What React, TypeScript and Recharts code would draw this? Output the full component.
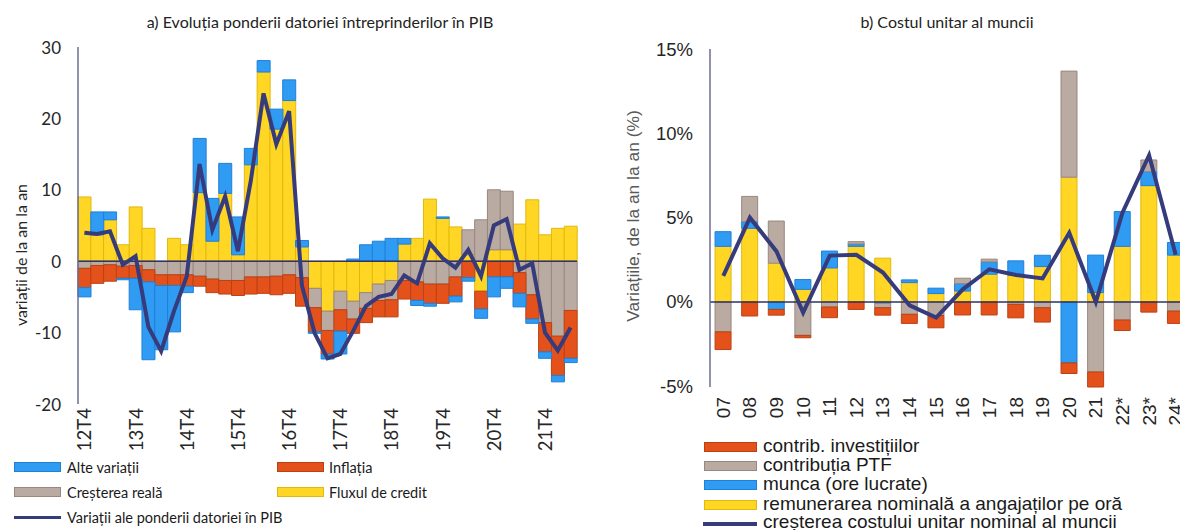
import React from 'react';
import { ComposedChart, Bar, Line, XAxis, YAxis, ReferenceLine } from 'recharts';

// ---------- Panel a) ----------
const quarters = ["12T4","13T1","13T2","13T3","13T4","14T1","14T2","14T3","14T4","15T1","15T2","15T3","15T4","16T1","16T2","16T3","16T4","17T1","17T2","17T3","17T4","18T1","18T2","18T3","18T4","19T1","19T2","19T3","19T4","20T1","20T2","20T3","20T4","21T1","21T2","21T3","21T4","22T1","22T2"];
const creditFlow = [9.0,3.7,5.8,2.3,7.6,4.6,0,3.2,2.3,9.6,2.8,9.5,0.9,13.5,26.5,18.5,22.5,2.0,-3.8,-7.0,-4.2,-5.6,-4.4,-3.2,-2.7,2.4,3.2,8.7,6.0,4.8,0.9,-4.2,1.6,1.6,5.2,8.6,3.7,4.6,4.9];
const realGrowth = [-1.0,-0.6,-0.5,-0.7,-0.6,-1.2,-1.9,-1.9,-1.9,-2.1,-2.5,-2.7,-2.7,-2.2,-2.2,-2.1,-1.9,-2.3,-2.7,-2.7,-2.6,-2.5,-2.2,-2.3,-2.7,-2.7,-2.9,-3.2,-3.2,-2.2,3.5,5.8,8.4,8.2,-1.6,-4.7,-8.6,-10.5,-6.9];
const inflation = [-2.7,-2.5,-2.3,-1.7,-1.8,-1.7,-1.5,-1.5,-1.6,-1.4,-1.9,-1.9,-2.1,-2.4,-2.3,-2.6,-2.6,-4.0,-3.4,-3.3,-3.0,-2.0,-2.0,-2.3,-2.4,-2.6,-2.6,-2.7,-2.7,-2.7,-2.3,-2.5,-2.2,-2.2,-2.9,-3.4,-4.1,-5.5,-6.7];
const otherChanges = [-1.3,3.2,1.1,-0.2,-4.4,-10.9,-9.0,-6.5,-0.9,7.6,6.0,4.2,5.3,2.3,1.6,2.8,2.9,0.9,-0.2,-0.7,-3.2,0.3,2.3,2.8,3.2,0.8,-0.7,-0.4,0.2,-0.8,-0.5,-1.3,-2.8,-1.6,-1.9,-0.6,-0.9,-0.9,-0.6];
const debtRatioChange = [4.0,3.8,4.2,-0.5,0.7,-9.2,-12.6,-7.0,-2.1,13.6,4.4,9.1,1.4,11.2,23.5,16.4,21.0,-3.4,-10.1,-13.6,-13.0,-9.8,-6.3,-5.0,-4.6,-2.0,-3.1,2.5,0.4,-0.9,1.6,-2.1,5.0,5.9,-1.2,-0.3,-10.0,-12.5,-9.3];
const leftTicks = [-20, -10, 0, 10, 20, 30];

// ---------- Panel b) ----------
const years = ["07","08","09","10","11","12","13","14","15","16","17","18","19","20","21","22*","23*","24*"];
const wagesPerHour = [3.3,4.37,2.3,0.75,2.02,3.3,2.6,1.15,0.5,0.65,1.65,1.59,2.1,7.4,0.56,3.3,6.9,2.78];
const labourHours = [0.87,0.4,-0.44,0.58,1.0,0.14,-0.08,0.16,0.32,0.44,0.73,0.85,0.67,-3.61,2.22,2.06,0.83,0.75];
const tfpContribution = [-1.77,1.49,2.5,-1.98,-0.3,0.14,-0.26,-0.73,-0.8,0.32,0.16,-0.14,-0.34,6.29,-4.15,-1.07,0.69,-0.54];
const investmentContribution = [-1.05,-0.83,-0.34,-0.14,-0.63,-0.44,-0.44,-0.54,-0.73,-0.77,-0.77,-0.8,-0.85,-0.63,-0.89,-0.62,-0.6,-0.73];
const unitLabourCost = [1.55,5.0,3.0,-0.63,2.75,2.8,1.75,-0.2,-0.93,0.75,1.94,1.6,1.4,4.1,0.0,5.3,8.7,2.8];
const rightTicks = [-5, 0, 5, 10, 15];

const leftData = quarters.map((q, i) => ({
  q,
  credit: creditFlow[i],
  real: realGrowth[i],
  infl: inflation[i],
  other: otherChanges[i],
  debt: debtRatioChange[i],
}));

const rightData = years.map((y, i) => ({
  y,
  wages: wagesPerHour[i],
  labour: labourHours[i],
  tfp: tfpContribution[i],
  invest: investmentContribution[i],
  ulc: unitLabourCost[i],
}));

const COL = {
  blue: '#2F9BF2', blueS: '#1F80D8',
  red: '#E5511B', redS: '#B94214',
  grey: '#B9AAA2', greyS: '#98877F',
  yellow: '#FFD624', yellowS: '#E2B80E',
  navy: '#363B7C',
  axis: '#6C6E93',
};

const CAL = 'Lato, "Open Sans", sans-serif';
const ARIAL = '"Liberation Sans", Arial, sans-serif';

const VTick = (props: any) => {
  const { x, payload, ty, font, size } = props;
  return (
    <text x={x} y={ty} transform={`rotate(-90, ${x}, ${ty})`} textAnchor="end" dominantBaseline="central"
      fontFamily={font} fontSize={size} fill="#262626">{payload.value}</text>
  );
};

const YTick = (props: any) => {
  const { y, payload, tx, font, size, fmt } = props;
  return (
    <text x={tx} y={y} textAnchor="end" dominantBaseline="central" fontFamily={font} fontSize={size} fill="#262626">
      {fmt ? fmt(payload.value) : payload.value}
    </text>
  );
};

const abs = (s: any): any => ({ position: 'absolute', ...s });

const Swatch = ({ x, y, w, h, fill, stroke }: any) => (
  <div style={abs({ left: x, top: y - h / 2, width: w - 2, height: h - 2, background: fill, border: `1px solid ${stroke}` })} />
);

export default function App() {
  return (
    <div style={abs({ left: 0, top: 0, width: 1180, height: 530, overflow: 'hidden', background: '#fff' })}>
      {/* Titles */}
      <div style={abs({ left: 320, top: 21, transform: 'translate(-50%,-50%)', whiteSpace: 'nowrap', fontFamily: CAL, fontSize: 16, color: '#222' })}>
        a) Evoluția ponderii datoriei întreprinderilor în PIB
      </div>
      <div style={abs({ left: 947, top: 21, transform: 'translate(-50%,-50%)', whiteSpace: 'nowrap', fontFamily: CAL, fontSize: 16, color: '#222' })}>
        b) Costul unitar al muncii
      </div>
      {/* Y labels */}
      <div style={abs({ left: 20, top: 255, transform: 'translate(-50%,-50%) rotate(-90deg)', whiteSpace: 'nowrap', fontFamily: CAL, fontSize: 16, color: '#262626' })}>
        variații de la an la an
      </div>
      <div style={abs({ left: 633, top: 216, transform: 'translate(-50%,-50%) rotate(-90deg)', whiteSpace: 'nowrap', fontFamily: ARIAL, fontSize: 17.4, color: '#595959' })}>
        Variațiile, de la an la an (%)
      </div>

      {/* Left chart */}
      <div style={abs({ left: 0, top: 0 })}>
        <ComposedChart width={590} height={460} data={leftData} stackOffset="sign" barCategoryGap={0}
          margin={{ top: 47, right: 13, bottom: 6, left: 18 }}>
          <XAxis dataKey="q" interval={3} axisLine={false} tickLine={false} height={50}
            tick={(p: any) => <VTick {...p} ty={408} font={CAL} size={18.5} />} />
          <YAxis domain={[-20, 30]} ticks={leftTicks} width={60} tickLine={false}
            axisLine={{ stroke: COL.axis, strokeWidth: 1.5 }}
            tick={(p: any) => <YTick {...p} tx={61} font={CAL} size={17} />} />
          <Bar dataKey="credit" stackId="a" fill={COL.yellow} stroke={COL.yellowS} strokeWidth={1} isAnimationActive={false} />
          <Bar dataKey="real" stackId="a" fill={COL.grey} stroke={COL.greyS} strokeWidth={1} isAnimationActive={false} />
          <Bar dataKey="infl" stackId="a" fill={COL.red} stroke={COL.redS} strokeWidth={1} isAnimationActive={false} />
          <Bar dataKey="other" stackId="a" fill={COL.blue} stroke={COL.blueS} strokeWidth={1} isAnimationActive={false} />
          <ReferenceLine y={0} stroke="#2F3366" strokeWidth={1.5} />
          <Line dataKey="debt" type="linear" stroke={COL.navy} strokeWidth={4} dot={false} isAnimationActive={false} />
        </ComposedChart>
      </div>

      {/* Right chart */}
      <div style={abs({ left: 600, top: 0 })}>
        <ComposedChart width={589} height={440} data={rightData} stackOffset="sign" barCategoryGap="19%"
          margin={{ top: 49, right: 0, bottom: 8, left: 20 }}>
          <XAxis dataKey="y" interval={0} axisLine={false} tickLine={false} height={45}
            tick={(p: any) => <VTick {...p} ty={397} font={ARIAL} size={19} />} />
          <YAxis domain={[-5, 15]} ticks={rightTicks} width={90} tickLine={false}
            axisLine={{ stroke: COL.axis, strokeWidth: 1.5 }}
            tick={(p: any) => <YTick {...p} tx={93} font={ARIAL} size={18.5} fmt={(v: number) => `${v}%`} />} />
          <Bar dataKey="wages" stackId="b" fill={COL.yellow} stroke={COL.yellowS} strokeWidth={1} isAnimationActive={false} />
          <Bar dataKey="labour" stackId="b" fill={COL.blue} stroke={COL.blueS} strokeWidth={1} isAnimationActive={false} />
          <Bar dataKey="tfp" stackId="b" fill={COL.grey} stroke={COL.greyS} strokeWidth={1} isAnimationActive={false} />
          <Bar dataKey="invest" stackId="b" fill={COL.red} stroke={COL.redS} strokeWidth={1} isAnimationActive={false} />
          <ReferenceLine y={0} stroke="#2F3366" strokeWidth={1.5} />
          <Line dataKey="ulc" type="linear" stroke={COL.navy} strokeWidth={4} dot={false} isAnimationActive={false} />
        </ComposedChart>
      </div>

      {/* Left legend */}
      <Swatch x={14} y={467} w={47} h={10} fill={COL.blue} stroke={COL.blueS} />
      <div style={abs({ left: 67, top: 467, transform: 'translateY(-50%)', fontFamily: CAL, fontSize: 14.5, color: '#1a1a1a', whiteSpace: 'nowrap' })}>Alte variații</div>
      <Swatch x={277} y={467} w={47} h={10} fill={COL.red} stroke={COL.redS} />
      <div style={abs({ left: 329, top: 467, transform: 'translateY(-50%)', fontFamily: CAL, fontSize: 14.5, color: '#1a1a1a', whiteSpace: 'nowrap' })}>Inflația</div>
      <Swatch x={14} y={492} w={47} h={10} fill={COL.grey} stroke={COL.greyS} />
      <div style={abs({ left: 67, top: 492, transform: 'translateY(-50%)', fontFamily: CAL, fontSize: 14.5, color: '#1a1a1a', whiteSpace: 'nowrap' })}>Creșterea reală</div>
      <Swatch x={277} y={492} w={47} h={10} fill={COL.yellow} stroke={COL.yellowS} />
      <div style={abs({ left: 329, top: 492, transform: 'translateY(-50%)', fontFamily: CAL, fontSize: 14.5, color: '#1a1a1a', whiteSpace: 'nowrap' })}>Fluxul de credit</div>
      <div style={abs({ left: 14, top: 516, width: 47, height: 3, background: COL.navy })} />
      <div style={abs({ left: 67, top: 517, transform: 'translateY(-50%)', fontFamily: CAL, fontSize: 14.5, color: '#1a1a1a', whiteSpace: 'nowrap' })}>Variații ale ponderii datoriei în PIB</div>

      {/* Right legend */}
      <Swatch x={704} y={447} w={53} h={10} fill={COL.red} stroke={COL.redS} />
      <div style={abs({ left: 763, top: 446, transform: 'translateY(-50%)', fontFamily: ARIAL, fontSize: 19, color: '#1a1a1a', whiteSpace: 'nowrap' })}>contrib. investițiilor</div>
      <Swatch x={704} y={466} w={53} h={10} fill={COL.grey} stroke={COL.greyS} />
      <div style={abs({ left: 763, top: 465, transform: 'translateY(-50%)', fontFamily: ARIAL, fontSize: 19, color: '#1a1a1a', whiteSpace: 'nowrap' })}>contribuția PTF</div>
      <Swatch x={704} y={485} w={53} h={10} fill={COL.blue} stroke={COL.blueS} />
      <div style={abs({ left: 763, top: 484, transform: 'translateY(-50%)', fontFamily: ARIAL, fontSize: 19, color: '#1a1a1a', whiteSpace: 'nowrap' })}>munca (ore lucrate)</div>
      <Swatch x={704} y={505} w={53} h={10} fill={COL.yellow} stroke={COL.yellowS} />
      <div style={abs({ left: 763, top: 504, transform: 'translateY(-50%)', fontFamily: ARIAL, fontSize: 19, color: '#1a1a1a', whiteSpace: 'nowrap' })}>remunerarea nominală a angajaților pe oră</div>
      <div style={abs({ left: 703, top: 522, width: 54, height: 4, background: COL.navy })} />
      <div style={abs({ left: 763, top: 522, transform: 'translateY(-50%)', fontFamily: ARIAL, fontSize: 19, color: '#1a1a1a', whiteSpace: 'nowrap' })}>creșterea costului unitar nominal al muncii</div>
    </div>
  );
}
